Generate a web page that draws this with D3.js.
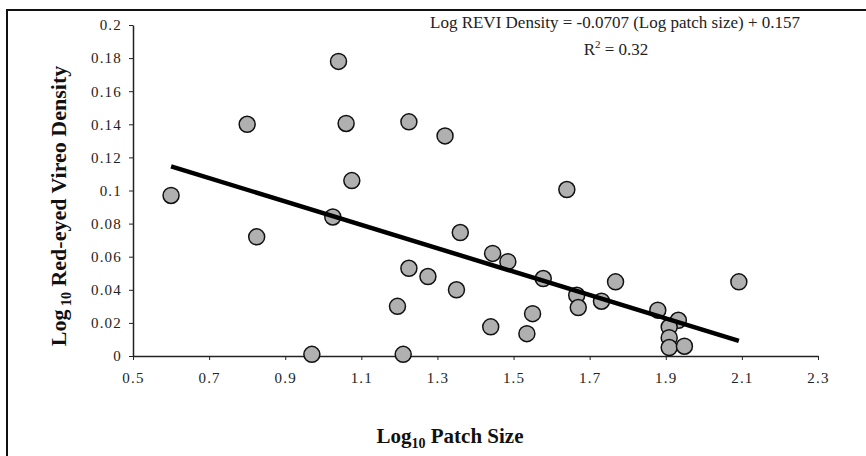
<!DOCTYPE html>
<html lang="en">
<head>
    <meta charset="UTF-8">
    <title>Red-eyed Vireo Density vs Patch Size</title>
    <script src="https://cdn.jsdelivr.net/npm/d3@7"></script>
    <style>
        body { margin: 0; background: #fff; }
        text { font-family: "Liberation Serif", "Times New Roman", serif; }
    </style>
</head>
<body>
<script type="text/javascript">

    // data
    var patchSize = [0.60, 0.80, 0.825, 0.97, 1.21, 1.04, 1.06, 1.225, 1.32, 1.075, 1.025, 1.64,
        1.36, 1.225, 1.275, 1.35, 1.195, 1.445, 1.485, 1.578, 1.44, 1.55, 1.535, 1.666,
        1.67, 1.731, 1.768, 1.879, 1.933, 1.909, 1.909, 1.909, 1.949, 2.092];
    var density = [0.097, 0.14, 0.072, 0.001, 0.001, 0.178, 0.1405, 0.1415, 0.133, 0.106, 0.084, 0.1006,
        0.0746, 0.053, 0.048, 0.040, 0.030, 0.062, 0.057, 0.0468, 0.0176, 0.0256, 0.0135, 0.0367,
        0.0293, 0.0331, 0.0448, 0.0277, 0.0216, 0.0175, 0.0111, 0.0051, 0.0059, 0.0448];
    var xTicks = [0.5, 0.7, 0.9, 1.1, 1.3, 1.5, 1.7, 1.9, 2.1, 2.3];
    var yTicks = [0, 0.02, 0.04, 0.06, 0.08, 0.1, 0.12, 0.14, 0.16, 0.18, 0.2];
    var slope = -0.0707;
    var intercept = 0.157;
    var rSquared = 0.32;

    var width = 866, height = 456;
    var svg = d3.select("body").append("svg").attr("width", width).attr("height", height);

    // outer frame (runs off right and bottom like the scan)
    svg.append("rect").attr("x", 7).attr("y", 10).attr("width", 900).attr("height", 500)
        .attr("fill", "none").attr("stroke", "#111").attr("stroke-width", 2);

    var x = d3.scaleLinear().domain([0.5, 2.3]).range([133, 818]);
    var y = d3.scaleLinear().domain([0, 0.2]).range([356, 25]);

    // axes
    var xAxis = d3.axisBottom(x).tickValues(xTicks).tickSize(4).tickSizeOuter(0)
        .tickFormat(function (d) { return d.toFixed(1); });
    var gx = svg.append("g").attr("transform", "translate(0," + y(0) + ")").call(xAxis);
    gx.select(".domain").attr("stroke", "#222").attr("stroke-width", 1.5);
    gx.selectAll(".tick line").attr("stroke", "#222");
    gx.selectAll("text").attr("font-size", 15).attr("fill", "#222").attr("letter-spacing", 1.2)
        .attr("y", 7).attr("dy", 20);

    var yAxis = d3.axisLeft(y).tickValues(yTicks).tickSize(4).tickSizeOuter(0)
        .tickFormat(function (d) { return String(+d.toFixed(2)); });
    var gy = svg.append("g").attr("transform", "translate(" + x(0.5) + ",0)").call(yAxis);
    gy.select(".domain").attr("stroke", "#222").attr("stroke-width", 1.5);
    gy.selectAll(".tick line").attr("stroke", "#222");
    gy.selectAll("text").attr("font-size", 15).attr("fill", "#222").attr("letter-spacing", 1.2)
        .attr("x", -11);

    // points
    svg.selectAll("circle").data(patchSize).enter().append("circle")
        .attr("cx", function (d) { return x(d); })
        .attr("cy", function (d, i) { return y(density[i]); })
        .attr("r", 8)
        .attr("fill", "#b0b0b0")
        .attr("stroke", "#111")
        .attr("stroke-width", 1.5);

    // trend line over the points
    var xMin = d3.min(patchSize), xMax = d3.max(patchSize);
    svg.append("line")
        .attr("x1", x(xMin)).attr("y1", y(slope * xMin + intercept))
        .attr("x2", x(xMax)).attr("y2", y(slope * xMax + intercept))
        .attr("stroke", "#000").attr("stroke-width", 4.5);

    // equation
    svg.append("text").attr("x", 615).attr("y", 28).attr("text-anchor", "middle")
        .attr("font-size", 17).attr("fill", "#222")
        .text("Log REVI Density = " + slope + " (Log patch size) + " + intercept);
    var r2 = svg.append("text").attr("x", 616).attr("y", 55).attr("text-anchor", "middle")
        .attr("font-size", 17).attr("fill", "#222");
    r2.append("tspan").text("R");
    r2.append("tspan").attr("font-size", 11).attr("dy", -7).text("2");
    r2.append("tspan").attr("dy", 7).text(" = " + rSquared);

    // axis titles
    var xl = svg.append("text").attr("x", 450).attr("y", 443).attr("text-anchor", "middle")
        .attr("font-size", 21).attr("font-weight", "bold").attr("fill", "#111");
    xl.append("tspan").text("Log");
    xl.append("tspan").attr("font-size", 14).attr("dy", 5).text("10");
    xl.append("tspan").attr("dy", -5).text(" Patch Size");

    var yl = svg.append("text").attr("transform", "translate(66,206) rotate(-90)")
        .attr("text-anchor", "middle")
        .attr("font-size", 22).attr("font-weight", "bold").attr("fill", "#111");
    yl.append("tspan").text("Log");
    yl.append("tspan").attr("font-size", 14).attr("dy", 5).text(" 10");
    yl.append("tspan").attr("dy", -5).text(" Red-eyed Vireo Density");

</script>
</body>
</html>
